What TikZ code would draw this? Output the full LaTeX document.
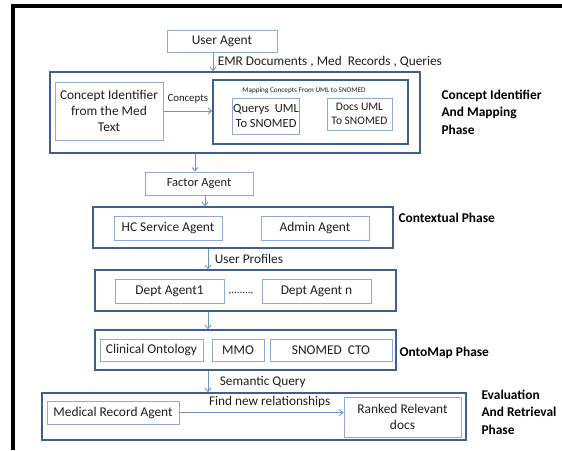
\documentclass[tikz,border=0pt]{standalone}
\usepackage{fontspec}
\setmainfont{Carlito}
\usepackage{tikz}
\usetikzlibrary{arrows.meta}

\definecolor{lightbox}{HTML}{8EA9D3}
\definecolor{darkbox}{HTML}{3F5F8F}
\definecolor{arrowblue}{HTML}{6F93C8}
\definecolor{inktext}{HTML}{1E1E1E}

\tikzset{
	agent/.style={draw=lightbox, line width=0.9pt, inner sep=0.5pt, align=center, text=inktext, font=\fontsize{13.4}{16}\selectfont},
	phasebox/.style={draw=darkbox, line width=1.6pt, inner sep=0pt},
	phaselabel/.style={anchor=west, align=left, text=black, font=\fontsize{13.4}{17.5}\selectfont\bfseries},
	flowlabel/.style={font=\fontsize{13.3}{14}\selectfont, text=inktext, anchor=west},
	arr/.style={-{Straight Barb[length=3.5pt,width=6pt]}, draw=arrowblue, line width=0.9pt}
}

\begin{document}
\begin{tikzpicture}[x=1pt, y=-1pt]
		\useasboundingbox (0,0) rectangle (562,450);
		\draw[line width=3.2pt] (13,450) -- (13,6) -- (562,6);
		
		\node[agent, minimum width=110, minimum height=22] (ua) at (222,41) {User Agent};
		
		%========================================================================
		% Concept identifier and mapping
		\node[phasebox, minimum width=370, minimum height=81] (p1) at (235,112.5) {};
		\node[agent, minimum width=108, minimum height=58] (cit) at (109,111) {Concept Identifier\\from the Med\\Text};
		\node[phasebox, minimum width=195, minimum height=64] (map) at (310.5,112) {};
		\node[font=\fontsize{7.2}{8}\selectfont, text=inktext] (maptitle) at (304,91) {Mapping Concepts From UML to SNOMED};
		\node[agent, minimum width=62, minimum height=36, font=\fontsize{12.5}{15}\selectfont] (qus) at (266,116) {Querys\ \ UML\\To SNOMED};
		\node[agent, minimum width=65, minimum height=32, font=\fontsize{11.5}{13.5}\selectfont] (dus) at (359.5,114) {Docs UML\\To SNOMED};
		\node[phaselabel] (l1) at (438,112) {Concept Identifier\\And Mapping\\Phase};
		
		\node[agent, minimum width=108, minimum height=23, font=\fontsize{12.5}{14}\selectfont] (fa) at (199,183.5) {Factor Agent};
		
		%========================================================================
		% Contextual
		\node[phasebox, minimum width=300, minimum height=41] (p2) at (243,227.5) {};
		\node[agent, minimum width=108, minimum height=24] (hc) at (168,228) {HC Service Agent};
		\node[agent, minimum width=108, minimum height=24] (adm) at (315,228) {Admin Agent};
		\node[phaselabel] (l2) at (395,218) {Contextual Phase};
		
		%========================================================================
		% Departments
		\node[phasebox, minimum width=301, minimum height=41] (p3) at (245.5,290.5) {};
		\node[agent, minimum width=109, minimum height=24] (d1) at (169.5,291) {Dept Agent1};
		\node[font=\fontsize{11}{12}\selectfont, text=inktext] (dots) at (241,294) {,.......,};
		\node[agent, minimum width=109, minimum height=24] (dn) at (316.5,291) {Dept Agent n};
		
		%========================================================================
		% OntoMap
		\node[phasebox, minimum width=301, minimum height=40] (p4) at (245.5,350) {};
		\node[agent, minimum width=103, minimum height=22] (co) at (151.5,350) {Clinical Ontology};
		\node[agent, minimum width=52, minimum height=22] (mmo) at (238,350) {MMO};
		\node[agent, minimum width=122, minimum height=22] (sct) at (331,350) {SNOMED\ \ CTO};
		\node[phaselabel] (l4) at (396,353) {OntoMap Phase};
		
		%========================================================================
		% Evaluation and retrieval
		\node[phasebox, minimum width=424, minimum height=47] (p5) at (254,416.5) {};
		\node[agent, minimum width=132, minimum height=23] (mra) at (113,412.5) {Medical Record Agent};
		\node[agent, minimum width=117, minimum height=40] (rrd) at (402.5,417) {Ranked Relevant\\docs};
		\node[phaselabel] (l5) at (478,412) {Evaluation\\And Retrieval\\Phase};
		
		%========================================================================
		% Arrows
		\draw[arr] ([xshift=-9]ua.south) -- ([xshift=-9]ua.south |- p1.north)
			node[flowlabel, pos=0.5, xshift=1] {EMR Documents , Med\ \ Records , Queries};
		\draw[arr] (cit.east) -- (cit.east -| map.west)
			node[pos=0.5, above=4pt, text=inktext, font=\fontsize{10.8}{11}\selectfont] {Concepts};
		\draw[arr] ([xshift=-4]fa.north |- p1.south) -- ([xshift=-4]fa.north);
		\draw[arr] ([xshift=6]fa.south) -- ([xshift=6]fa.south |- p2.north);
		\draw[arr] ([xshift=-37.5]p3.north |- p2.south) -- ([xshift=-37.5]p3.north)
			node[flowlabel, pos=0.5, xshift=3] {User Profiles};
		\draw[arr] ([xshift=-37.5]p3.south) -- ([xshift=-37.5]p4.north);
		\draw[arr] ([xshift=-37.5]p4.south) -- ([xshift=-37.5]p4.south |- p5.north)
			node[flowlabel, pos=0.5, xshift=8] {Semantic Query};
		\draw[arr] (mra.east) -- (mra.east -| rrd.west)
			node[pos=0.55, above=1pt, text=inktext, font=\fontsize{13.3}{14}\selectfont] {Find new relationships};
	\end{tikzpicture}
\end{document}
